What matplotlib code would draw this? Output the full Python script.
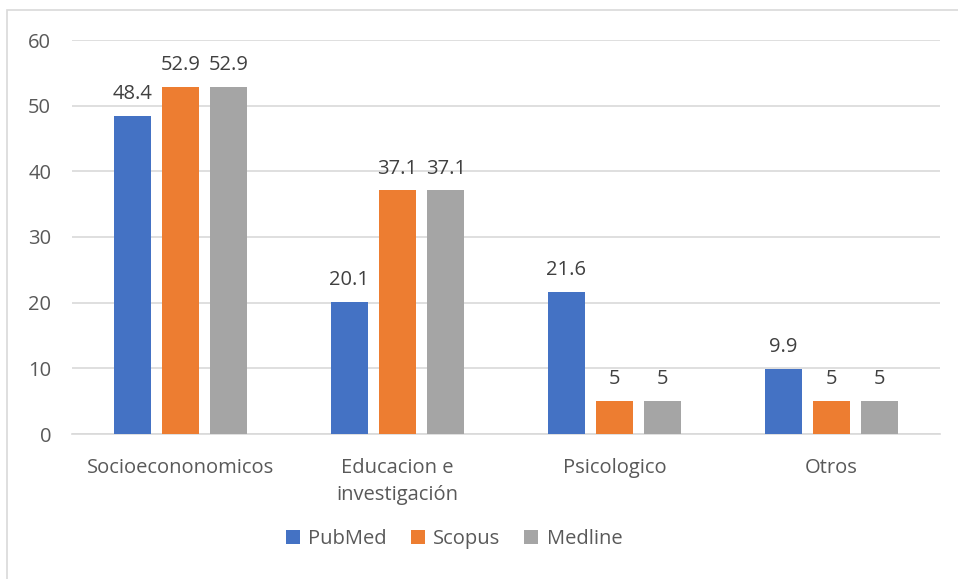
import matplotlib
matplotlib.use('Agg')
import matplotlib.pyplot as plt
import numpy as np
from matplotlib.patches import Rectangle

categories = ['Socioecononomicos', 'Educacion e\ninvestigación', 'Psicologico', 'Otros']
series_names = ['PubMed', 'Scopus', 'Medline']
pubmed = [48.4, 20.1, 21.6, 9.9]
scopus = [52.9, 37.1, 5, 5]
medline = [52.9, 37.1, 5, 5]
colors = ['#4472C4', '#ED7D31', '#A5A5A5']

plt.rcParams['font.family'] = ['Open Sans', 'DejaVu Sans']
txt = '#595959'

fig = plt.figure(figsize=(9.58, 5.79), dpi=100)
ax = fig.add_axes([72 / 958, 1 - 434 / 579, 868 / 958, 394 / 579])

# marco del gráfico
fig.patches.append(Rectangle((7 / 958, -0.01), 2, 1 - 10 / 579 + 0.01,
                             transform=fig.transFigure, fill=False,
                             edgecolor='#d9d9d9', linewidth=1.2))

x = np.arange(len(categories))
w = 0.172
step = 0.222
for i, (vals, name) in enumerate(zip([pubmed, scopus, medline], series_names)):
    bars = ax.bar(x + (i - 1) * step, vals, w, color=colors[i], label=name, zorder=3)
    for b, v in zip(bars, vals):
        ax.text(b.get_x() + b.get_width() / 2, v + 1.8, f'{v:g}', ha='center',
                va='bottom', fontsize=14.5, color='#404040')

ax.set_xlim(-0.5, 3.5)
ax.set_ylim(0, 60)
ax.set_yticks(range(0, 61, 10))
ax.yaxis.grid(True, color='#d9d9d9', linewidth=1.2, zorder=0)
for s in ['top', 'right', 'left']:
    ax.spines[s].set_visible(False)
ax.spines['bottom'].set_color('#d9d9d9')
ax.spines['bottom'].set_linewidth(1.2)
ax.tick_params(axis='both', length=0, labelsize=14.5, labelcolor=txt)
ax.tick_params(axis='y', pad=15)
ax.tick_params(axis='x', pad=17)
ax.set_xticks(x)
ax.set_xticklabels(categories, linespacing=1.5)

ax.legend(loc='center', bbox_to_anchor=((454 - 72) / 868, (434 - 539) / 394), ncol=3,
          frameon=False, fontsize=14.5, labelcolor=txt, handlelength=0.7,
          handleheight=0.7, handletextpad=0.4, columnspacing=1.2)

fig.savefig('out.png', dpi=100)
